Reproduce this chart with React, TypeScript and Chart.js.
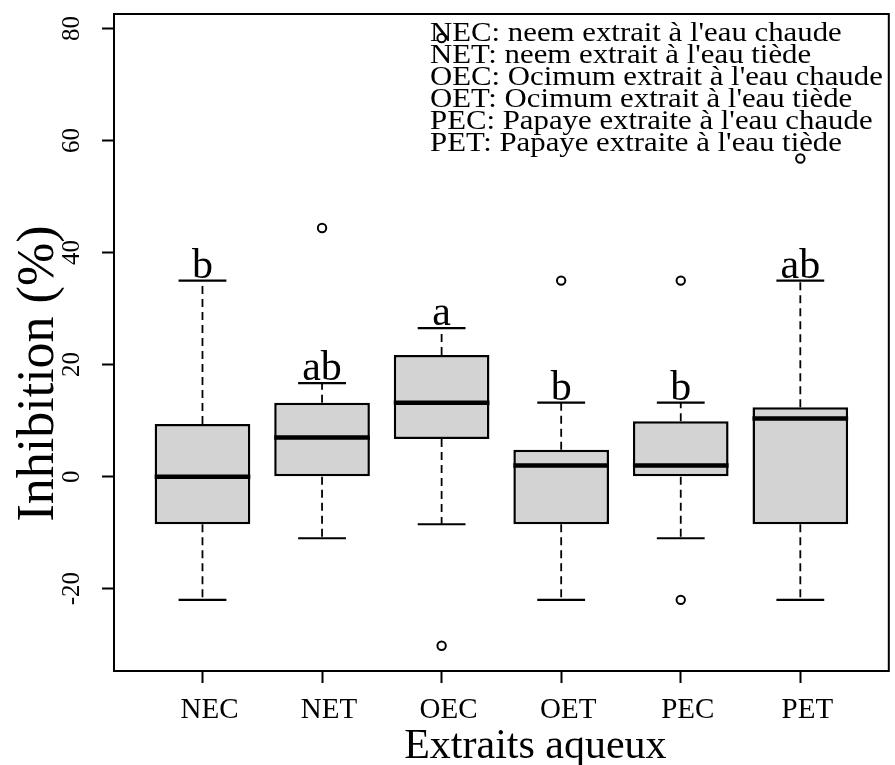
import React, { useEffect, useRef } from 'react';
import { Chart, registerables } from 'chart.js';

Chart.register(...registerables);

const SERIF = '"Liberation Serif", "Times New Roman", serif';

const categories = ['NEC', 'NET', 'OEC', 'OET', 'PEC', 'PET'];
const q1 = [-8.5, 0, 6.7, -8.5, 0, -8.5];
const median = [0, 7.0, 13.2, 2.0, 2.0, 10.4];
const q3 = [9.4, 13.2, 21.7, 4.8, 9.9, 12.4];
const whiskerLow = [-22, -11, -8.5, -22, -11, -22];
const whiskerHigh = [35, 16.7, 26.5, 13.2, 13.2, 35];
const outlierCat = [1, 2, 2, 3, 4, 4, 5];
const outlierVal = [44.4, 78.3, -30.2, 35, 35, -22, 56.8];
const letters = ['b', 'ab', 'a', 'b', 'b', 'ab'];
const yTicks = [-20, 0, 20, 40, 60, 80];
const legendLines = [
  "NEC: neem extrait à l'eau chaude",
  "NET: neem extrait à l'eau tiède",
  "OEC: Ocimum extrait à l'eau chaude",
  "OET: Ocimum extrait à l'eau tiède",
  "PEC: Papaye extraite à l'eau chaude",
  "PET: Papaye extraite à l'eau tiède",
];
const yTitle = 'Inhibition (%)';
const xTitle = 'Extraits aqueux';

const BOX_HALF = 0.4;
const CAP_HALF = 0.2;

export default function App() {
  const ref = useRef<HTMLCanvasElement>(null);

  useEffect(() => {
    const canvas = ref.current;
    if (!canvas) return;

    const yTickSize = 25;
    const mctx = document.createElement('canvas').getContext('2d')!;
    mctx.font = `${yTickSize}px ${SERIF}`;
    const widest = Math.max(...yTicks.map((v) => mctx.measureText(String(v)).width));
    const yPad = 30 - widest / 2;

    const whiskerPts: any[] = [];
    const capPts: any[] = [];
    const medianPts: any[] = [];
    categories.forEach((_, i) => {
      whiskerPts.push({ x: i, y: q3[i] }, { x: i, y: whiskerHigh[i] }, { x: i, y: null });
      whiskerPts.push({ x: i, y: q1[i] }, { x: i, y: whiskerLow[i] }, { x: i, y: null });
      capPts.push({ x: i - CAP_HALF, y: whiskerHigh[i] }, { x: i + CAP_HALF, y: whiskerHigh[i] }, { x: i, y: null });
      capPts.push({ x: i - CAP_HALF, y: whiskerLow[i] }, { x: i + CAP_HALF, y: whiskerLow[i] }, { x: i, y: null });
      medianPts.push({ x: i - BOX_HALF, y: median[i] }, { x: i + BOX_HALF, y: median[i] }, { x: i, y: null });
    });

    const annot = {
      id: 'annot',
      afterDraw(chart: any) {
        const { ctx, chartArea, scales } = chart;
        const xs = scales.x;
        const ys = scales.y;
        ctx.save();
        ctx.strokeStyle = '#000';
        ctx.lineWidth = 2;
        ctx.strokeRect(chartArea.left, chartArea.top, chartArea.right - chartArea.left, chartArea.bottom - chartArea.top);

        ctx.fillStyle = '#000';
        ctx.font = `42px ${SERIF}`;
        ctx.textAlign = 'center';
        ctx.textBaseline = 'alphabetic';
        letters.forEach((l, i) => {
          ctx.fillText(l, xs.getPixelForValue(i), ys.getPixelForValue(whiskerHigh[i]) - 3);
        });

        ctx.font = `28px ${SERIF}`;
        ctx.textAlign = 'left';
        legendLines.forEach((t, i) => {
          ctx.save();
          ctx.translate(chartArea.left + 316, chartArea.top + 26.5 + 22 * i);
          ctx.scale(1.1, 1);
          ctx.fillText(t, 0, 0);
          ctx.restore();
        });

        ctx.font = `42px ${SERIF}`;
        ctx.textAlign = 'center';
        ctx.fillText(xTitle, (chartArea.left + chartArea.right) / 2 + 34, chart.height - 7);

        ctx.save();
        ctx.font = `52px ${SERIF}`;
        ctx.translate(53, (chartArea.top + chartArea.bottom) / 2 + 31);
        ctx.rotate(-Math.PI / 2);
        ctx.textAlign = 'center';
        ctx.fillText(yTitle, 0, 0);
        ctx.restore();
        ctx.restore();
      },
    };

    const chart = new Chart(canvas, {
      type: 'bar',
      data: {
        datasets: [
          {
            type: 'scatter',
            label: 'outliers',
            data: outlierCat.map((c, k) => ({ x: c, y: outlierVal[k] })),
            pointRadius: 4.2,
            pointBorderWidth: 2,
            borderColor: '#000',
            pointBorderColor: '#000',
            backgroundColor: 'rgba(0,0,0,0)',
            pointBackgroundColor: 'rgba(0,0,0,0)',
            order: 0,
          } as any,
          {
            type: 'line',
            label: 'median',
            data: medianPts,
            borderColor: '#000',
            borderWidth: 4.5,
            pointRadius: 0,
            spanGaps: false,
            borderCapStyle: 'butt',
            order: 1,
          } as any,
          {
            type: 'line',
            label: 'caps',
            data: capPts,
            borderColor: '#000',
            borderWidth: 2.2,
            pointRadius: 0,
            spanGaps: false,
            order: 2,
          } as any,
          {
            type: 'line',
            label: 'whiskers',
            data: whiskerPts,
            borderColor: '#000',
            borderWidth: 1.8,
            borderDash: [8, 5],
            pointRadius: 0,
            spanGaps: false,
            order: 3,
          } as any,
          {
            type: 'bar',
            label: 'box',
            data: categories.map((_, i) => ({ x: i, y: [q1[i], q3[i]] })),
            backgroundColor: '#d3d3d3',
            borderColor: '#000',
            borderWidth: 2.5,
            borderSkipped: false,
            barPercentage: 0.8,
            categoryPercentage: 1,
            order: 4,
          } as any,
        ],
      },
      options: {
        responsive: false,
        animation: false,
        devicePixelRatio: 1,
        layout: { padding: { top: 14, right: 3, left: 0, bottom: 0 } },
        plugins: { legend: { display: false }, tooltip: { enabled: false } },
        scales: {
          x: {
            type: 'linear',
            min: -0.74,
            max: 5.74,
            offset: false,
            afterBuildTicks: (s: any) => {
              s.ticks = categories.map((_, i) => ({ value: i }));
            },
            afterFit: (s: any) => {
              s.height = 94;
              s.paddingLeft = 0;
              s.paddingRight = 0;
            },
            ticks: {
              callback: (v: any) => categories[v as number],
              font: { family: SERIF, size: 29 },
              color: '#000',
              padding: 10,
              labelOffset: 7,
              autoSkip: false,
              minRotation: 0,
              maxRotation: 0,
            },
            grid: { offset: false, drawOnChartArea: false, drawTicks: true, tickLength: 12, tickWidth: 2, tickColor: '#000' },
            border: { display: true, color: '#000', width: 2 },
          },
          y: {
            type: 'linear',
            min: -34.7,
            max: 82.6,
            afterBuildTicks: (s: any) => {
              s.ticks = yTicks.map((v) => ({ value: v }));
            },
            afterFit: (s: any) => {
              s.width = 114;
              s.paddingTop = 0;
              s.paddingBottom = 0;
            },
            ticks: {
              callback: (v: any) => String(v),
              font: { family: SERIF, size: yTickSize },
              color: '#000',
              minRotation: 90,
              maxRotation: 90,
              crossAlign: 'center',
              padding: yPad,
              autoSkip: false,
            },
            grid: { drawOnChartArea: false, drawTicks: true, tickLength: 12, tickWidth: 2, tickColor: '#000' },
            border: { display: true, color: '#000', width: 2 },
          },
        },
      } as any,
      plugins: [annot],
    });

    return () => chart.destroy();
  }, []);

  return (
    <div style={{ position: 'fixed', left: 0, top: 0, width: 895, height: 765, background: '#fff' }}>
      <canvas ref={ref} width={895} height={765} style={{ display: 'block' }} />
    </div>
  );
}
